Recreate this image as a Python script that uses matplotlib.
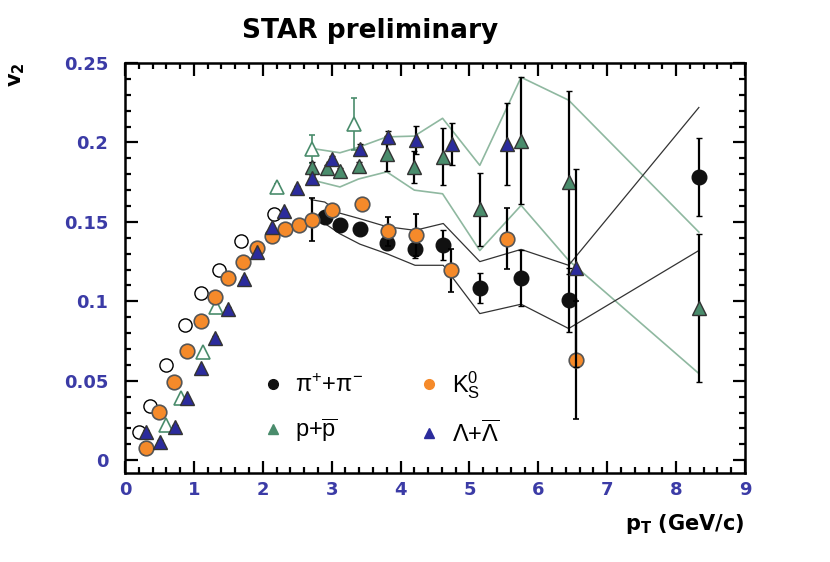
import matplotlib
matplotlib.use('Agg')
import matplotlib.pyplot as plt
from matplotlib.ticker import MultipleLocator, FixedLocator, FixedFormatter

# ---- data ----
# open circles (pi, low pT)
pi_open_x = [0.21, 0.37, 0.60, 0.87, 1.11, 1.37, 1.68, 2.17]
pi_open_y = [0.018, 0.034, 0.060, 0.085, 0.105, 0.120, 0.138, 0.155]

# pi+ + pi-
pi_x = [2.90, 3.12, 3.41, 3.80, 4.21, 4.62, 5.15, 5.75, 6.44, 8.33]
pi_y = [0.153, 0.148, 0.1455, 0.137, 0.133, 0.1355, 0.1085, 0.1147, 0.1007, 0.178]
pi_err = [0.003, 0.003, 0.003, 0.004, 0.006, 0.0094, 0.0094, 0.0177, 0.020, 0.0245]

# K0S
k_x = [0.30, 0.50, 0.71, 0.90, 1.10, 1.30, 1.50, 1.71, 1.91, 2.13, 2.32, 2.52,
       2.72, 3.01, 3.44, 3.82, 4.23, 4.73, 5.55, 6.55]
k_y = [0.0075, 0.0306, 0.049, 0.069, 0.0875, 0.1028, 0.1147, 0.1247, 0.1336,
       0.1412, 0.1457, 0.148, 0.1515, 0.1577, 0.1614, 0.144, 0.1418, 0.1196,
       0.1394, 0.063]
k_err = [0.004, 0.001, 0.001, 0.001, 0.001, 0.001, 0.001, 0.001, 0.001, 0.001,
         0.001, 0.002, 0.0135, 0.003, 0.003, 0.009, 0.013, 0.0136, 0.0193, 0.037]

# p + pbar, open (low pT) and filled
p_open_x = [0.60, 0.81, 1.13, 1.32, 2.20, 2.72, 3.33]
p_open_y = [0.022, 0.039, 0.068, 0.0965, 0.172, 0.196, 0.2117]
p_open_err = [0.001, 0.001, 0.001, 0.001, 0.002, 0.009, 0.0165]

p_x = [2.72, 2.93, 3.12, 3.39, 3.80, 4.20, 4.61, 5.15, 5.75, 6.44, 8.33]
p_y = [0.1845, 0.184, 0.182, 0.185, 0.1928, 0.1845, 0.191, 0.158, 0.201, 0.175, 0.0959]
p_err = [0.003, 0.002, 0.002, 0.003, 0.011, 0.010, 0.018, 0.023, 0.040, 0.0576, 0.0466]

# Lambda + Lambdabar
lam_x = [0.31, 0.51, 0.72, 0.90, 1.11, 1.30, 1.49, 1.73, 1.92, 2.13, 2.31, 2.50,
         2.72, 3.01, 3.41, 3.82, 4.23, 4.75, 5.55, 6.55]
lam_y = [0.018, 0.0117, 0.021, 0.039, 0.0578, 0.077, 0.0955, 0.1143, 0.131,
         0.1467, 0.157, 0.1715, 0.1776, 0.1897, 0.196, 0.2033, 0.2016, 0.199,
         0.199, 0.121]
lam_err = [0.001, 0.001, 0.001, 0.001, 0.001, 0.001, 0.001, 0.001, 0.001, 0.001,
           0.001, 0.001, 0.002, 0.002, 0.003, 0.004, 0.009, 0.0135, 0.026, 0.062]

# systematic bands
pi_band_x = [2.70, 2.90, 3.12, 3.41, 3.80, 4.21, 4.62, 5.15, 5.75, 6.44, 8.33]
pi_band_hi = [0.164, 0.1625, 0.1555, 0.152, 0.147, 0.1447, 0.149, 0.125, 0.1327, 0.1227, 0.222]
pi_band_lo = [0.152, 0.149, 0.1425, 0.136, 0.130, 0.1227, 0.1227, 0.0923, 0.0982, 0.0829, 0.132]

p_band_x = [2.75, 3.12, 3.39, 3.80, 4.20, 4.61, 5.15, 5.75, 6.44, 8.33]
p_band_hi = [0.196, 0.1935, 0.197, 0.2035, 0.204, 0.2152, 0.1856, 0.241, 0.2266, 0.1436]
p_band_lo = [0.176, 0.172, 0.177, 0.1815, 0.170, 0.1677, 0.132, 0.1604, 0.1258, 0.0546]

y_ticks = [0, 0.05, 0.1, 0.15, 0.2, 0.25]
y_tick_labels = ['0', '0.05', '0.1', '0.15', '0.2', '0.25']

orange = '#f58a2a'
green = '#4a8c6c'
blue = '#2b2b9c'
band_green = '#8fb8a0'
tick_blue = '#3b3ba6'

fig = plt.figure(figsize=(8.3, 5.62), dpi=100)
ax = fig.add_axes([0.1506, 0.1584, 0.747, 0.7295])

ax.plot(p_band_x, p_band_hi, color=band_green, lw=1.2, zorder=1)
ax.plot(p_band_x, p_band_lo, color=band_green, lw=1.2, zorder=1)
ax.plot(pi_band_x, pi_band_hi, color='#333333', lw=0.9, zorder=1)
ax.plot(pi_band_x, pi_band_lo, color='#333333', lw=0.9, zorder=1)

ms = 10.5
ax.errorbar(pi_open_x, pi_open_y, yerr=0.002, fmt='o', ms=ms - 1, mfc='white',
            mec='black', mew=1.0, ecolor='black', elinewidth=1, capsize=2, zorder=2)
ax.errorbar(p_open_x, p_open_y, yerr=p_open_err, fmt='^', ms=ms, mfc='white',
            mec=green, mew=1.2, ecolor=green, elinewidth=1.2, capsize=2, zorder=2)
ax.errorbar(pi_x, pi_y, yerr=pi_err, fmt='o', ms=ms, color='#111111',
            mec='#111111', ecolor='black', elinewidth=1.6, capsize=2.5, zorder=3)
ax.errorbar(k_x, k_y, yerr=k_err, fmt='o', ms=ms, color=orange, mec='#555555',
            mew=1.2, ecolor='black', elinewidth=1.6, capsize=2.5, zorder=4)
ax.errorbar(p_x, p_y, yerr=p_err, fmt='^', ms=ms, color=green, mec='#333333',
            mew=1.0, ecolor='black', elinewidth=1.6, capsize=2.5, zorder=5)
ax.errorbar(lam_x, lam_y, yerr=lam_err, fmt='^', ms=ms, color=blue, mec='#333333',
            mew=1.0, ecolor='black', elinewidth=1.6, capsize=2.5, zorder=6)

# legend entries
h_pi, = ax.plot([], [], 'o', color='#111111', ms=7)
h_p, = ax.plot([], [], '^', color=green, ms=7)
h_k, = ax.plot([], [], 'o', color=orange, ms=7)
h_l, = ax.plot([], [], '^', color=blue, ms=7)
leg = ax.legend([h_pi, h_p, h_k, h_l],
                [r'$\mathregular{\pi^{+}}$+$\mathregular{\pi^{-}}$', r'p+$\mathregular{\overline{p}}$',
                 r'$\mathregular{K^{0}_{S}}$', r'$\mathregular{\Lambda}$+$\mathregular{\overline{\Lambda}}$'],
                ncol=2, frameon=False, loc='upper left', bbox_to_anchor=(0.185, 0.305),
                prop={'family': 'Liberation Sans', 'size': 17}, handletextpad=0.45,
                columnspacing=2.3, labelspacing=0.8, handlelength=1.0)

ax.set_xlim(0, 9)
ax.set_ylim(-0.008, 0.25)
ax.xaxis.set_major_locator(MultipleLocator(1))
ax.xaxis.set_minor_locator(MultipleLocator(0.2))
ax.yaxis.set_major_locator(FixedLocator(y_ticks))
ax.yaxis.set_major_formatter(FixedFormatter(y_tick_labels))
ax.yaxis.set_minor_locator(MultipleLocator(0.01))
ax.tick_params(which='both', direction='in', top=True, right=True, width=1.6)
ax.tick_params(which='major', length=9)
ax.tick_params(which='minor', length=4.5)
ax.tick_params(axis='y', pad=12)
ax.tick_params(axis='x', pad=6)
for lab in ax.get_xticklabels() + ax.get_yticklabels():
    lab.set_fontweight('bold')
    lab.set_fontsize(13)
    lab.set_color(tick_blue)
for sp in ax.spines.values():
    sp.set_linewidth(1.8)

ax.set_xlabel(r'p$_\mathregular{T}$ (GeV/c)', fontsize=15, fontweight='bold', ha='right')
ax.xaxis.set_label_coords(1.0, -0.095)
fig.text(17 / 830, 1 - 75 / 562, r'v$_\mathregular{2}$', rotation=90, fontsize=15,
         fontweight='bold', ha='center', va='center')

fig.text(0.446, 0.945, 'STAR preliminary', fontsize=19, fontweight='bold',
         ha='center', va='center')

plt.savefig('out.png')
